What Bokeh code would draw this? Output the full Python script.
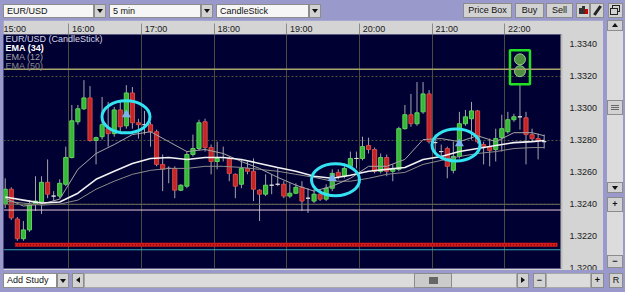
from bokeh.plotting import figure
from bokeh.models import (FixedTicker, PrintfTickFormatter, LinearAxis, Label, Span, Div,
                          ColumnDataSource, Range1d, Grid)
from bokeh.layouts import column, row
from bokeh.embed import file_html
from bokeh.resources import INLINE

# ---------------- data ----------------
symbol = "EUR/USD"
interval = "5 min"
chart_type = "CandleStick"
legend_texts = ["EUR/USD (CandleStick)", "EMA (34)", "EMA (12)", "EMA (50)"]

hour_ticks = [15, 16, 17, 18, 19, 20, 21, 22]
hour_labels = ["15:00", "16:00", "17:00", "18:00", "19:00", "20:00", "21:00", "22:00"]
price_ticks = [1.3200, 1.3220, 1.3240, 1.3260, 1.3280, 1.3300, 1.3320, 1.3340]
grid_prices = [1.3240, 1.3280, 1.3320]

first_bar_minute = 15 * 60 + 5   # first 5-minute bar starts 15:05
bar_minutes = 5

opens = [1.32401, 1.32494, 1.32308, 1.32185, 1.32240, 1.32401, 1.32414, 1.32537, 1.32451, 1.32451,
         1.32525, 1.32692, 1.32915, 1.32996, 1.33064, 1.32798, 1.32822, 1.32872, 1.32841, 1.32989,
         1.32890, 1.33095, 1.32909, 1.32897, 1.32897, 1.32853, 1.32649, 1.32624, 1.32624, 1.32488,
         1.32513, 1.32711, 1.32748, 1.32915, 1.32754, 1.32667, 1.32692, 1.32686, 1.32587, 1.32525,
         1.32624, 1.32606, 1.32488, 1.32463, 1.32519, 1.32525, 1.32525, 1.32451, 1.32469, 1.32506,
         1.32438, 1.32420, 1.32463, 1.32432, 1.32500, 1.32599, 1.32575, 1.32637, 1.32686, 1.32686,
         1.32767, 1.32742, 1.32606, 1.32692, 1.32606, 1.32618, 1.32872, 1.32959, 1.32903, 1.32977,
         1.33089, 1.32785, 1.32729, 1.32748, 1.32612, 1.32698, 1.32903, 1.32934, 1.32983, 1.32773,
         1.32760, 1.32742, 1.32816, 1.32853, 1.32928, 1.32946, 1.32940, 1.32835, 1.32810, 1.32791]
highs = [1.32562, 1.32506, 1.32321, 1.32296, 1.32426, 1.32575, 1.32575, 1.32680, 1.32482, 1.32556,
         1.32760, 1.33020, 1.33020, 1.33175, 1.33138, 1.32822, 1.33070, 1.33039, 1.33008, 1.33039,
         1.33144, 1.33132, 1.32934, 1.32983, 1.32915, 1.32866, 1.32711, 1.32637, 1.32637, 1.32525,
         1.32729, 1.32835, 1.32928, 1.32934, 1.32773, 1.32791, 1.32760, 1.32698, 1.32593, 1.32680,
         1.32667, 1.32686, 1.32494, 1.32587, 1.32587, 1.32624, 1.32544, 1.32531, 1.32531, 1.32544,
         1.32500, 1.32494, 1.32494, 1.32525, 1.32618, 1.32618, 1.32655, 1.32729, 1.32729, 1.32822,
         1.32816, 1.32754, 1.32717, 1.32711, 1.32649, 1.32884, 1.33020, 1.33089, 1.33163, 1.33163,
         1.33113, 1.32835, 1.32773, 1.32760, 1.32791, 1.32977, 1.32989, 1.33039, 1.32989, 1.32791,
         1.32810, 1.32872, 1.32959, 1.32977, 1.32965, 1.33150, 1.32977, 1.32872, 1.32841, 1.32835]
lows = [1.32376, 1.32302, 1.32172, 1.32172, 1.32228, 1.32358, 1.32339, 1.32438, 1.32420, 1.32438,
        1.32513, 1.32686, 1.32897, 1.32989, 1.32791, 1.32649, 1.32804, 1.32760, 1.32822, 1.32853,
        1.32872, 1.32872, 1.32810, 1.32835, 1.32760, 1.32637, 1.32482, 1.32531, 1.32438, 1.32482,
        1.32500, 1.32698, 1.32736, 1.32729, 1.32587, 1.32618, 1.32667, 1.32544, 1.32438, 1.32500,
        1.32587, 1.32420, 1.32296, 1.32451, 1.32463, 1.32513, 1.32438, 1.32438, 1.32463, 1.32358,
        1.32346, 1.32407, 1.32420, 1.32420, 1.32482, 1.32556, 1.32562, 1.32624, 1.32624, 1.32674,
        1.32717, 1.32593, 1.32593, 1.32575, 1.32544, 1.32606, 1.32866, 1.32884, 1.32890, 1.32965,
        1.32779, 1.32729, 1.32680, 1.32562, 1.32593, 1.32686, 1.32890, 1.32804, 1.32779, 1.32649,
        1.32637, 1.32667, 1.32729, 1.32841, 1.32915, 1.32866, 1.32649, 1.32791, 1.32680, 1.32748]
closes = [1.32494, 1.32315, 1.32185, 1.32240, 1.32401, 1.32420, 1.32537, 1.32463, 1.32451, 1.32531,
          1.32692, 1.32921, 1.32996, 1.33064, 1.32798, 1.32816, 1.32897, 1.32841, 1.32989, 1.32884,
          1.33095, 1.32909, 1.32897, 1.32897, 1.32853, 1.32649, 1.32618, 1.32624, 1.32488, 1.32519,
          1.32711, 1.32748, 1.32909, 1.32754, 1.32667, 1.32686, 1.32692, 1.32593, 1.32513, 1.32624,
          1.32606, 1.32494, 1.32463, 1.32519, 1.32519, 1.32525, 1.32451, 1.32469, 1.32506, 1.32420,
          1.32438, 1.32463, 1.32432, 1.32500, 1.32593, 1.32575, 1.32624, 1.32686, 1.32686, 1.32760,
          1.32742, 1.32606, 1.32692, 1.32606, 1.32624, 1.32872, 1.32959, 1.32903, 1.32971, 1.33089,
          1.32791, 1.32785, 1.32729, 1.32637, 1.32698, 1.32903, 1.32946, 1.32983, 1.32791, 1.32760,
          1.32736, 1.32810, 1.32872, 1.32928, 1.32946, 1.32946, 1.32835, 1.32810, 1.32798, 1.32791]

# EMA readings at selected bars
ema_bars = [0, 3, 6, 9, 12, 15, 18, 21, 24, 27, 30, 33, 36, 39, 42, 45, 48, 51, 54, 57,
            60, 63, 66, 69, 72, 75, 78, 81, 84, 87, 89]
ema34 = [1.32445, 1.32426, 1.32407, 1.32414, 1.32469, 1.32556, 1.32606, 1.32655, 1.32686, 1.32692,
         1.32680, 1.32692, 1.32692, 1.32680, 1.32655, 1.32630, 1.32606, 1.32575, 1.32562, 1.32581,
         1.32606, 1.32618, 1.32630, 1.32680, 1.32698, 1.32729, 1.32748, 1.32767, 1.32785, 1.32791, 1.32798]
ema12 = [1.32438, 1.32389, 1.32401, 1.32432, 1.32618, 1.32717, 1.32773, 1.32835, 1.32853, 1.32791,
         1.32729, 1.32742, 1.32717, 1.32667, 1.32624, 1.32568, 1.32519, 1.32482, 1.32513, 1.32562,
         1.32637, 1.32637, 1.32680, 1.32804, 1.32810, 1.32791, 1.32828, 1.32791, 1.32847, 1.32847, 1.32828]
ema50 = [1.32420, 1.32407, 1.32395, 1.32401, 1.32426, 1.32494, 1.32544, 1.32587, 1.32612, 1.32624,
         1.32624, 1.32637, 1.32637, 1.32630, 1.32618, 1.32606, 1.32587, 1.32568, 1.32544, 1.32544,
         1.32562, 1.32587, 1.32599, 1.32649, 1.32674, 1.32698, 1.32717, 1.32729, 1.32748, 1.32754, 1.32754]

# horizontal levels
level_olive = 1.33243
level_grey = 1.32400
level_pink = 1.32364
level_red = 1.32147
level_cyan = 1.32116

# highlighted setups (time in hours, price)
ring_times = [16.787, 19.670, 21.328]
ring_prices = [1.32946, 1.32553, 1.32770]
signal_bars = [20, 54, 75]
signal_prices = [1.32959, 1.32562, 1.32779]
alert_bar = 85
alert_prices = [1.33305, 1.33231]
alert_box_price = 1.33256

# ---------------- derived ----------------
n = len(opens)
times = [(first_bar_minute + bar_minutes * i + bar_minutes / 2) / 60 for i in range(n)]
GREEN, RED, GREY = "#35b835", "#c42424", "#d8d8d8"
fills, lines, tops, bottoms = [], [], [], []
for o, c in zip(opens, closes):
    if c > o:
        fills.append(GREEN); lines.append("#5fd25f")
    elif c < o:
        fills.append(RED); lines.append("#d84a4a")
    else:
        fills.append(GREY); lines.append(GREY)
    tops.append(max(o, c)); bottoms.append(min(o, c))

src = ColumnDataSource(dict(x=times, high=highs, low=lows, top=tops, bottom=bottoms,
                            fill=fills, line=lines))
ema_x = [times[i] for i in ema_bars]

FONT = "Liberation Sans"
PURPLE = "#9a99cc"
PANEL = "#d4d4d4"

p = figure(width=600, height=250, x_range=Range1d(15.1014, 22.780), y_range=Range1d(1.31999, 1.33460),
           output_backend="svg", toolbar_location=None, x_axis_location=None, y_axis_location=None,
           min_border_left=0, min_border_right=42, min_border_top=12, min_border_bottom=2,
           background_fill_color="#000033", border_fill_color=PANEL, outline_line_color=None,
           margin=(0, 0, 0, 3))
# drop the default grids; custom ones are added below
p.center = [c for c in p.center if not isinstance(c, Grid)]

# time header: labels sit just right of each hour separator
label_shift = 0.2
label_pos = [h + label_shift for h in hour_ticks]
xax = LinearAxis(ticker=FixedTicker(ticks=label_pos, minor_ticks=hour_ticks),
                 major_label_overrides={t: l for t, l in zip(label_pos, hour_labels)})
xax.major_label_text_font = FONT
xax.major_label_text_font_size = "9px"
xax.major_label_text_color = "#1a1a1a"
xax.major_tick_out = 0
xax.major_tick_in = 0
xax.minor_tick_out = 11
xax.minor_tick_in = 0
xax.minor_tick_line_color = "#8a8a8a"
xax.axis_line_color = None
xax.major_label_standoff = -10
p.add_layout(xax, "above")

yax = LinearAxis(ticker=FixedTicker(ticks=price_ticks), formatter=PrintfTickFormatter(format="%.4f"))
yax.major_label_text_font = FONT
yax.major_label_text_font_size = "9px"
yax.major_label_text_color = "#1a1a1a"
yax.major_tick_out = 0
yax.major_tick_in = 0
yax.minor_tick_line_color = None
yax.axis_line_color = "#bdbdbd"
yax.axis_line_width = 2
yax.major_label_standoff = 8
p.add_layout(yax, "right")

p.add_layout(Grid(dimension=0, ticker=FixedTicker(ticks=hour_ticks), grid_line_color="#4c4c3c"))
p.add_layout(Grid(dimension=1, ticker=FixedTicker(ticks=grid_prices), grid_line_color="#55553f",
                  grid_line_dash="2 2"))

for loc, col, w in [(level_olive, "#a8a46a", 1.5), (level_grey, "#6c6c5c", 1),
                    (level_pink, "#e6c8d8", 1), (level_cyan, "#3fa6b8", 1)]:
    p.add_layout(Span(location=loc, dimension="width", line_color=col, line_width=w))

red_x0, red_x1 = times[1] + 0.05, 22.725
p.segment(x0=[red_x0], x1=[red_x1], y0=[level_red], y1=[level_red], line_color="#d41a1a", line_width=4)
p.segment(x0=[red_x0], x1=[red_x1], y0=[level_red], y1=[level_red], line_color="#7a0a0a",
          line_width=1.5, line_dash="1 2")

# candles
p.segment(x0="x", x1="x", y0="low", y1="high", source=src, line_color="#a4a4ae", line_width=1)
p.vbar(x="x", width=3.4 / 60, top="top", bottom="bottom", source=src, fill_color="fill",
       line_color="line", line_width=1)

# EMAs
p.line(ema_x, ema50, line_color="#8c8c8c", line_width=1)
p.line(ema_x, ema12, line_color="#a6a6a6", line_width=1)
p.line(ema_x, ema34, line_color="#f2f2f2", line_width=1.6)

# highlighted setups
p.ellipse(x=ring_times, y=ring_prices, width=48, height=32, width_units="screen", height_units="screen",
          fill_color=None, line_color="#33e3f2", line_width=3)
p.scatter([times[i] for i in signal_bars], signal_prices, marker="triangle", size=9,
          fill_color="#78b4f0", line_color=None)
p.rect(x=[times[alert_bar]], y=[alert_box_price], width=20, height=34, width_units="screen",
       height_units="screen", fill_color=None, line_color="#22e022", line_width=2.5)
p.scatter([times[alert_bar]] * 2, alert_prices, size=11, fill_color="#4f8f42", line_color="#8fd08a",
          line_width=1)

legend_colors = ["#d6d6e6", "#ffffff", "#a4a4a4", "#8a8a8a"]
for i, (t, c) in enumerate(zip(legend_texts, legend_colors)):
    p.add_layout(Label(x=2, y=235 - 9 * i, x_units="screen", y_units="screen", text=t,
                       text_font=FONT, text_font_size="9px", text_color=c, text_baseline="top",
                       text_font_style="bold" if i == 1 else "normal"))

# ---------------- UI chrome ----------------
CSSFONT = "'Liberation Sans', Arial, sans-serif"


def el(x, y, w, h, bg="transparent", border=None, text="", align="left", extra=""):
    b = f"border:1px solid {border};" if border else ""
    pad = "padding-left:3px;" if align == "left" else ""
    return (f'<div style="position:absolute;left:{x}px;top:{y}px;width:{w}px;height:{h}px;'
            f'background:{bg};{b}box-sizing:border-box;font-family:{CSSFONT};font-size:9px;'
            f'color:#111;line-height:{h - 2}px;text-align:{align};{pad}white-space:nowrap;'
            f'overflow:hidden;{extra}">{text}</div>')


def tri(x, y, d):
    css = {"down": "border-left:3px solid transparent;border-right:3px solid transparent;border-top:4px solid #111;",
           "up": "border-left:3px solid transparent;border-right:3px solid transparent;border-bottom:4px solid #111;",
           "left": "border-top:3px solid transparent;border-bottom:3px solid transparent;border-right:4px solid #111;",
           "right": "border-top:3px solid transparent;border-bottom:3px solid transparent;border-left:4px solid #111;"}[d]
    return f'<div style="position:absolute;left:{x}px;top:{y}px;width:0;height:0;{css}"></div>'


def wrap(w, h, parts):
    return (f'<div style="position:relative;width:{w}px;height:{h}px;background:{PURPLE};overflow:hidden">'
            + "".join(parts) + "</div>")


BTN, BRD, BOX = "#d2d2d2", "#8c8c8c", "#f6f6f6"
top_parts = [
    el(3, 4, 91, 14, BOX, BRD, symbol), el(94, 4, 12, 14, BTN, BRD), tri(97, 9, "down"),
    el(109, 4, 92, 14, BOX, BRD, interval), el(201, 4, 12, 14, BTN, BRD), tri(204, 9, "down"),
    el(216, 4, 93, 14, BOX, BRD, chart_type), el(309, 4, 12, 14, BTN, BRD), tri(312, 9, "down"),
    el(463, 3, 49, 15, BTN, BRD, "Price Box", "center"),
    el(515, 3, 29, 15, BTN, BRD, "Buy", "center"),
    el(546, 3, 27, 15, BTN, BRD, "Sell", "center"),
    el(576, 3, 14, 15, BTN, BRD),
    el(579, 8, 1, 6, "#333"), el(582, 6, 1, 8, "#333"), el(585, 9, 1, 5, "#c00"),
    el(590, 3, 14, 15, BTN, BRD),
    el(596, 5, 1, 11, "#222", extra="transform:rotate(35deg);"),
    el(608, 3, 15, 15, BTN, BRD),
    el(612, 5, 8, 7, "transparent", "#222"), el(610, 8, 8, 7, BTN, "#222"),
]
top_div = Div(text=wrap(625, 20, top_parts), width=625, height=20, margin=0)

side_parts = [
    el(4, 0, 16, 11, BTN, BRD), tri(9, 3, "up"),
    el(4, 11, 16, 151, "#dcdcdc"),
    el(4, 80, 16, 15, BTN, BRD), el(8, 85, 8, 1, "#666"), el(8, 87, 8, 1, "#666"), el(8, 89, 8, 1, "#666"),
    el(4, 162, 16, 11, BTN, BRD), tri(9, 166, "down"),
    el(4, 177, 16, 15, BTN, BRD, "+", "center", "font-weight:bold;"),
    el(4, 192, 16, 43, "#dcdcdc"),
    el(4, 235, 16, 13, BTN, BRD, "\u2212", "center", "font-weight:bold;"),
]
side_div = Div(text=wrap(22, 250, side_parts), width=22, height=250, margin=0)

bottom_parts = [
    el(3, 3, 54, 15, "#ffffff", BRD, "Add Study"), el(57, 3, 12, 15, BTN, BRD), tri(60, 9, "down"),
    el(72, 3, 12, 15, BTN, BRD), tri(76, 7, "left"),
    el(84, 3, 433, 15, "#dcdcdc", "#a8a8a8"),
    el(414, 3, 38, 15, "#cbcbcb", BRD),
    el(429, 7, 1, 7, "#666"), el(432, 7, 1, 7, "#666"), el(435, 7, 1, 7, "#666"),
    el(517, 3, 12, 15, BTN, BRD), tri(521, 7, "right"),
    el(533, 3, 13, 15, BTN, BRD, "\u2212", "center", "font-weight:bold;"),
    el(546, 3, 45, 15, "#dcdcdc", "#a8a8a8"),
    el(591, 3, 13, 15, BTN, BRD, "+", "center", "font-weight:bold;"),
    el(609, 3, 14, 15, BTN, BRD, "R", "center"),
]
bottom_div = Div(text=wrap(625, 22, bottom_parts), width=625, height=22, margin=0)

layout = column(top_div, row(p, side_div, spacing=0, styles={"background-color": PURPLE}),
                bottom_div, spacing=0, styles={"background-color": PURPLE})

open("out.html", "w").write(file_html(layout, INLINE))
